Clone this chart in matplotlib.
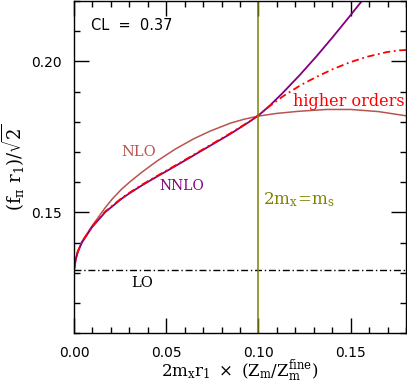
import matplotlib
matplotlib.use("Agg")
import matplotlib.pyplot as plt
from matplotlib.ticker import MultipleLocator

# values
lo_y = 0.1308
ms_x = 0.10
cl_text = "CL  =  0.37"

nlo_x = [0.0, 0.001, 0.002, 0.0043, 0.0098, 0.017, 0.021, 0.026, 0.0303, 0.0368,
         0.045, 0.055, 0.065, 0.0737, 0.085, 0.0925, 0.10, 0.11, 0.122, 0.137, 0.15, 0.165, 0.18]
nlo_y = [0.1308, 0.1345, 0.1368, 0.1403, 0.1455, 0.1516, 0.1546, 0.1578, 0.1601, 0.1633,
         0.1670, 0.1710, 0.1744, 0.1769, 0.1796, 0.1809, 0.1819, 0.1828, 0.1835, 0.1841, 0.1841,
         0.1834, 0.1820]

nnlo_x = [0.0, 0.001, 0.002, 0.0043, 0.0098, 0.017, 0.026, 0.0303, 0.037, 0.042, 0.052,
          0.0574, 0.0719, 0.0845, 0.0953, 0.10, 0.1062, 0.1132, 0.1224, 0.1316, 0.1403,
          0.1495, 0.156]
nnlo_y = [0.1308, 0.1345, 0.1368, 0.1400, 0.1451, 0.1501, 0.1546, 0.1564, 0.1590, 0.1608, 0.1643,
          0.1662, 0.1714, 0.1759, 0.1801, 0.1821, 0.1854, 0.1896, 0.1955, 0.2018, 0.2081,
          0.2150, 0.2200]

hi_x = [0.0, 0.001, 0.002, 0.0043, 0.0098, 0.017, 0.026, 0.0303, 0.037, 0.042, 0.052,
        0.0574, 0.0719, 0.0845, 0.0953, 0.10, 0.1067, 0.1134, 0.123, 0.1318, 0.1405,
        0.1495, 0.1585, 0.1694, 0.1766, 0.18]
hi_y = [0.1308, 0.1345, 0.1369, 0.1402, 0.1453, 0.1503, 0.1548, 0.1566, 0.1592, 0.1610, 0.1645,
        0.1664, 0.1716, 0.1761, 0.1802, 0.1822, 0.1855, 0.1885, 0.1922, 0.1950, 0.1975,
        0.1997, 0.2015, 0.2031, 0.2037, 0.2038]

plt.rcParams['mathtext.fontset'] = 'dejavuserif'

fig = plt.figure(figsize=(4.07, 3.83), dpi=100)
ax = fig.add_axes([0.1818, 0.1305, 0.8157, 0.8665])

ax.plot(nlo_x, nlo_y, color='#b85450', lw=1.1)
ax.plot(nnlo_x, nnlo_y, color='#800080', lw=1.3)
ax.plot(hi_x, hi_y, color='#ff0000', lw=1.3, dashes=(4, 2, 1, 2))
ax.axhline(lo_y, color='black', lw=1.0, dashes=(5, 2, 1, 2))
ax.axvline(ms_x, color='#808000', lw=1.1)

ax.set_xlim(0, 0.18)
ax.set_ylim(0.11, 0.22)
ax.xaxis.set_major_locator(MultipleLocator(0.05))
ax.xaxis.set_minor_locator(MultipleLocator(0.01))
ax.yaxis.set_major_locator(MultipleLocator(0.05))
ax.yaxis.set_minor_locator(MultipleLocator(0.01))
ax.xaxis.set_major_formatter(plt.FormatStrFormatter('%.2f'))
ax.yaxis.set_major_formatter(plt.FormatStrFormatter('%.2f'))
ax.tick_params(which='both', direction='in', top=True, right=True, width=1.0, labelsize=10)
ax.tick_params(which='major', length=11, pad=9)
ax.tick_params(which='minor', length=4)
for s in ax.spines.values():
    s.set_linewidth(1.0)

ax.set_xlabel(r'$\mathrm{2m_x r_1\ \times\ (Z_m/Z_m^{fine})}$', fontsize=12, labelpad=-1)
ax.set_ylabel(r'$\mathrm{(f_\pi\ r_1)/\sqrt{2}}$', fontsize=13, labelpad=3)

ax.text(0.0092, 0.212, cl_text, fontsize=10.5, va='center', ha='left')
ax.text(0.0352, 0.1699, 'NLO', color='#b85450', fontsize=10.5, family='DejaVu Serif',
        ha='center', va='center')
ax.text(0.0585, 0.1586, 'NNLO', color='#800080', fontsize=10, family='DejaVu Serif',
        ha='center', va='center')
ax.text(0.0371, 0.1265, 'LO', color='black', fontsize=10.5, family='DejaVu Serif',
        ha='center', va='center')
ax.text(0.1790, 0.1868, 'higher orders', color='#ff0000', fontsize=11.5, family='DejaVu Serif',
        ha='right', va='center')
ax.text(0.1024, 0.1543, r'$\mathrm{2m_x\!=\!m_s}$', color='#808000', fontsize=12,
        ha='left', va='center')

fig.savefig("out.png", dpi=100)
